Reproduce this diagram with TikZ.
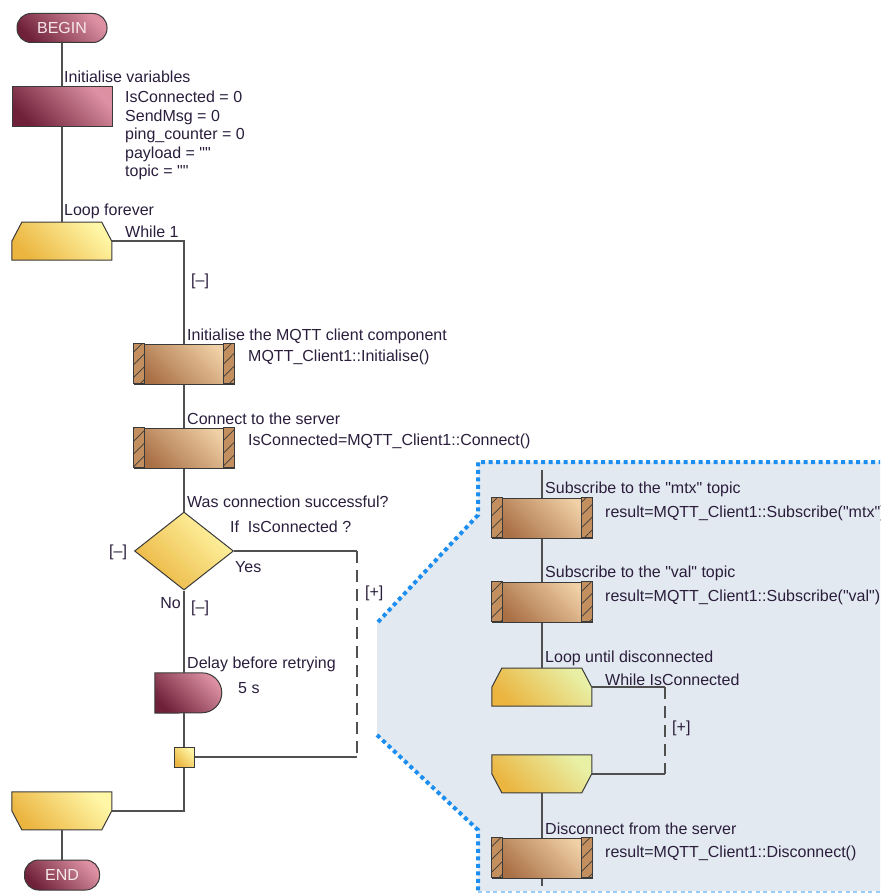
\documentclass[tikz,border=0pt]{standalone}
\usepackage{fontspec}
\setmainfont{Liberation Sans}[Ligatures=TeXOff]
\usetikzlibrary{calc,shapes.geometric,patterns.meta}

\definecolor{maroonD}{HTML}{6E2139}
\definecolor{maroonL}{HTML}{DC90A2}
\definecolor{tanD}{HTML}{A96F45}
\definecolor{tanL}{HTML}{F0D0A6}
\definecolor{stripC}{HTML}{C48F5E}
\definecolor{goldD}{HTML}{EBB540}
\definecolor{goldL}{HTML}{FFF6A6}
\definecolor{goldP}{HTML}{E8F0A6}
\definecolor{panelbg}{HTML}{E3E9F0}
\definecolor{dotblue}{HTML}{1C8EF0}
\definecolor{edge}{HTML}{3A3A3A}
\definecolor{wire}{HTML}{505050}
\definecolor{txt}{HTML}{2A1E3C}
\definecolor{termtxt}{HTML}{F7E8EE}

% blocks are placed by their centre (x,y), y runs down the page
\newcommand{\loopstart}[4][goldL]{%
  \node[blockbox] (#2) at (#3,#4) {};
  \draw[loopfill=#1] (#2.south west) -- ++(0,-19) -- ++(10,-19) -- ++(80,0) -- ++(10,19) -- ++(0,19) -- cycle;}
\newcommand{\loopend}[4][goldL]{%
  \node[blockbox] (#2) at (#3,#4) {};
  \draw[loopfill=#1] (#2.north west) -- ++(0,19) -- ++(10,19) -- ++(80,0) -- ++(10,-19) -- ++(0,-19) -- cycle;}
\newcommand{\macrobox}[3]{%
  \node[macro] (#1) at (#2,#3) {};
  \draw[strip] (#1.north west) rectangle ++(11,40);
  \draw[strip] (#1.north east) rectangle ++(-11,40);}
\newcommand{\delaybox}[3]{%
  \node[blockbox, minimum width=67pt, minimum height=40pt] (#1) at (#2,#3) {};
  \draw[calcfill] (#1.north west) -- ++(47,0) arc[start angle=-90, end angle=90, radius=20] -- (#1.south west) -- cycle;}

\begin{document}
\begin{tikzpicture}[x=1pt, y=-1pt, font=\fontsize{16}{18.4}\selectfont,
  every node/.style={text=txt},
  wire/.style={draw=wire, line width=1.4pt},
  folded/.style={wire, dash pattern=on 12pt off 7pt},
  note/.style={anchor=base west, inner sep=0pt},
  calcfill/.style={draw=edge, line width=1pt, left color=maroonD, right color=maroonL, shading angle=135},
  loopfill/.style={draw=edge, line width=1pt, left color=goldD, right color=#1, shading angle=135},
  loopfill/.default=goldL,
  term/.style={rectangle, rounded corners=14pt, calcfill, minimum width=90pt, minimum height=29pt, inner sep=0pt, text=termtxt},
  calcbox/.style={rectangle, calcfill, minimum width=100pt, minimum height=40pt, inner sep=0pt},
  blockbox/.style={rectangle, draw=none, minimum width=100pt, minimum height=38pt, inner sep=0pt},
  macro/.style={rectangle, draw=edge, line width=1pt, left color=tanD, right color=tanL, shading angle=135, minimum width=100pt, minimum height=40pt, inner sep=0pt},
  strip/.style={draw=edge, line width=1pt, preaction={fill=stripC}, pattern={Lines[angle=45,distance=9pt,line width=.7pt]}, pattern color=edge},
  decision/.style={diamond, loopfill, minimum width=99pt, minimum height=78pt, inner sep=0pt},
  junction/.style={rectangle, loopfill, minimum width=20pt, minimum height=20pt, inner sep=0pt}]
  \useasboundingbox (0,0) rectangle (880,893);

  % expanded view of the Yes branch
  \fill[panelbg] (478,462) -- (880,462) -- (880,891) -- (478,891) -- (478,830) -- (377,735) -- (377,622) -- (478,515) -- cycle;
  \draw[dotblue, line width=4pt, dash pattern=on 4pt off 3.5pt] (378,622) -- (478,515) -- (478,462) -- (880,462);
  \draw[dotblue, line width=4pt, dash pattern=on 4pt off 3.5pt] (377,735) -- (478,830) -- (478,891);
  \draw[dotblue!45, line width=2pt, dash pattern=on 4pt off 3.5pt] (478,892) -- (880,892);

  % main column
  \node[term] (begin) at (62,28) {BEGIN};
  \node[calcbox] (init) at (62,107) {};
  \node[note] (initC) at (64,83) {Initialise variables};
  \foreach \t [count=\i] in {IsConnected = 0, SendMsg = 0, ping\_counter = 0, payload = "", topic = ""}
    \node[note] (var\i) at (125,{103+18.4*(\i-1)}) {\t};
  \loopstart{loopA}{62}{241}
  \node[note] (loopAC) at (64,216) {Loop forever};
  \node[note] (loopAX) at (125,237) {While 1};
  \loopend{loopB}{62}{811}
  \node[term, minimum width=75pt, minimum height=30pt] (end) at (62,875) {END};

  % loop body
  \node[note] (bodyF) at (191,285) {[–]};
  \macrobox{mqInit}{184}{364}
  \node[note] (mqInitC) at (187,340) {Initialise the MQTT client component};
  \node[note] (mqInitX) at (248,361) {MQTT\_Client1::Initialise()};
  \macrobox{mqConn}{184}{448}
  \node[note] (mqConnC) at (187,424) {Connect to the server};
  \node[note] (mqConnX) at (248,445) {IsConnected=MQTT\_Client1::Connect()};
  \node[decision] (dec) at (184,551) {};
  \node[note] (decC) at (187,507) {Was connection successful?};
  \node[note] (decX) at (230,532) {If~ IsConnected ?};
  \node[note] (decF) at (109,556) {[–]};
  \node[note] (yes) at (235,572) {Yes};
  \node[note, anchor=base east] (no) at (181,608) {No};
  \node[note] (noF) at (191,612) {[–]};
  \node[note] (yesF) at (365,597) {[+]};
  \delaybox{delay}{188.5}{693}
  \node[note] (delayC) at (187,668) {Delay before retrying};
  \node[note] (delayX) at (238,693) {5 s};
  \node[junction] (junc) at (184,757) {};
  \coordinate (yesT) at (357,551);
  \coordinate (yesB) at (357,757);

  % Yes branch, expanded
  \coordinate (pTop) at (542,470);
  \macrobox{subA}{542}{518}
  \node[note] (subAC) at (545,493) {Subscribe to the "mtx" topic};
  \node[note] (subAX) at (605,517) {result=MQTT\_Client1::Subscribe("mtx")};
  \macrobox{subB}{542}{602}
  \node[note] (subBC) at (545,577) {Subscribe to the "val" topic};
  \node[note] (subBX) at (605,601) {result=MQTT\_Client1::Subscribe("val")};
  \loopstart[goldP]{loopC}{542}{687}
  \node[note] (loopCC) at (545,662) {Loop until disconnected};
  \node[note] (loopCX) at (605,685) {While IsConnected};
  \node[note] (loopCF) at (672,732) {[+]};
  \loopend[goldP]{loopD}{542}{774}
  \coordinate (wTop) at (665,687);
  \coordinate (wBot) at (665,774);
  \macrobox{disc}{542}{858}
  \node[note] (discC) at (545,834) {Disconnect from the server};
  \node[note] (discX) at (605,857) {result=MQTT\_Client1::Disconnect()};
  \coordinate (pBot) at (542,886);

  % connectors
  \draw[wire] (begin) -- (init);
  \draw[wire] (init) -- (loopA);
  \draw[wire] (loopA.east) -| (mqInit.north);
  \draw[wire] (mqInit) -- (mqConn);
  \draw[wire] (mqConn) -- (dec);
  \draw[wire] (dec.south) -- (dec.south |- delay.north);
  \draw[wire] (dec.south |- delay.south) -- (junc);
  \draw[wire] (junc) |- (loopB.east);
  \draw[wire] (loopB) -- (end);
  \draw[wire] (dec.east) -- (yesT);
  \draw[folded] (yesT) -- (yesB);
  \draw[wire] (yesB) -- (junc.east);
  \draw[wire] (pTop) -- (subA);
  \draw[wire] (subA) -- (subB);
  \draw[wire] (subB) -- (loopC);
  \draw[wire] (loopC.east) -- (wTop);
  \draw[folded] (wTop) -- (wBot);
  \draw[wire] (wBot) -- (loopD.east);
  \draw[wire] (loopD) -- (disc);
  \draw[wire] (disc) -- (pBot);
\end{tikzpicture}
\end{document}
